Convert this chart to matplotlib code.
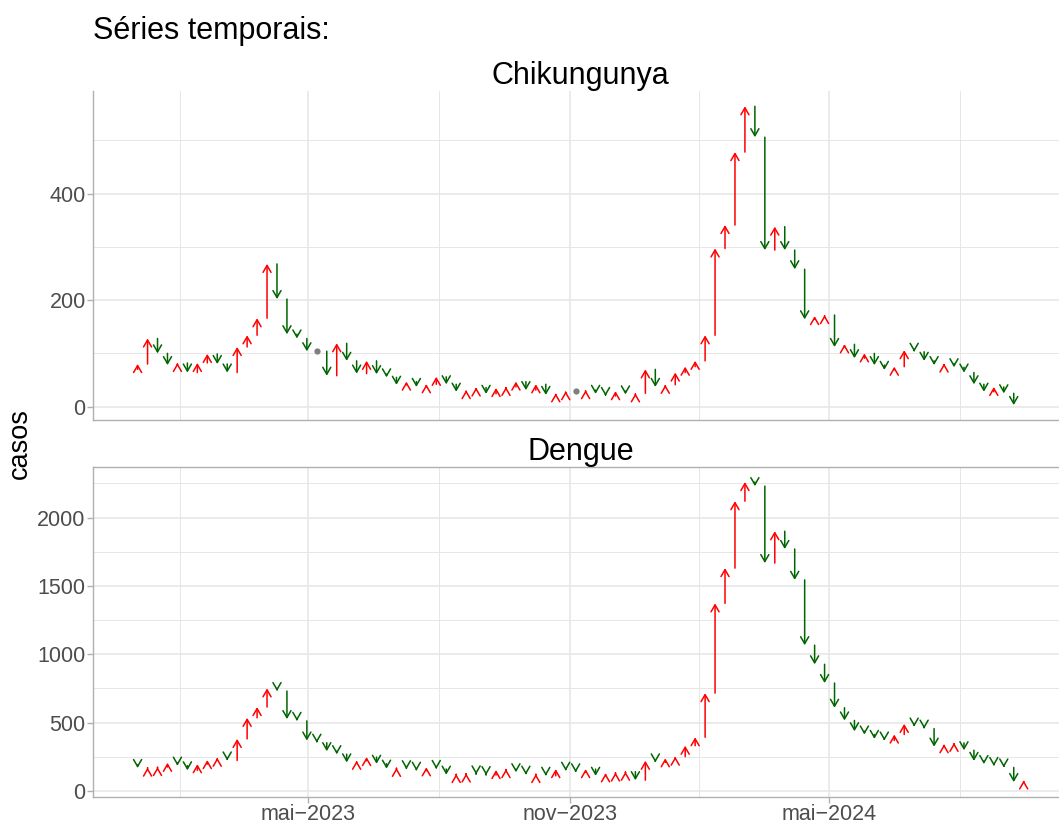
import matplotlib.dates as mdates
import matplotlib.pyplot as plt
import numpy as np
import pandas as pd

plt.rcParams["font.family"] = ["Liberation Sans", "DejaVu Sans"]

# weekly cases, the first value is the week before the plotted range
chik_cases = [
    70, 80, 128, 100, 78, 82, 64, 82, 99, 80, 64,
    112, 134, 166, 268, 202, 136, 128, 104, 104, 58,
    119, 86, 62, 86, 61, 55, 41, 47, 37, 42,
    56, 42, 28, 31, 36, 24, 35, 37, 47, 31,
    42, 22, 25, 29, 29, 31, 24, 20, 29, 23,
    25, 70, 37, 41, 64, 75, 86, 134, 297, 341,
    478, 564, 506, 294, 338, 294, 258, 164, 170, 172,
    112, 117, 91, 100, 78, 69, 75, 106, 103, 86,
    78, 81, 74, 64, 42, 28, 37, 25, 3,
]
dengue_cases = [
    190, 167, 170, 174, 205, 184, 150, 195, 225, 242, 222,
    380, 534, 613, 750, 730, 525, 512, 368, 352, 290,
    268, 208, 220, 247, 198, 162, 168, 158, 147, 172,
    160, 118, 123, 127, 120, 115, 152, 159, 136, 118,
    123, 110, 159, 147, 135, 159, 110, 128, 134, 140,
    78, 220, 208, 238, 250, 330, 392, 715, 1372, 1630,
    2120, 2260, 2230, 1667, 1900, 1770, 1544, 1066, 926, 789,
    608, 515, 436, 412, 380, 368, 412, 490, 470, 455,
    323, 341, 351, 297, 219, 196, 182, 171, 64, 76,
]
first_week = "2022-12-25"

major_months = ["2023-05-01", "2023-11-01", "2024-05-01"]
major_labels = ["mai\u22122023", "nov\u22122023", "mai\u22122024"]
outer_months = ["2022-11-01", "2024-11-01"]

chik_major = [0, 200, 400]
chik_minor = [100, 300, 500]
dengue_major = [0, 500, 1000, 1500, 2000]
dengue_minor = [250, 750, 1250, 1750, 2250]

UP = "#ff0000"
DOWN = "#006400"
SAME = "#7f7f7f"
AXIS = "#b0b0b0"
GRID = "#e6e6e6"
TEXT = "#4d4d4d"


def week_dates(n):
    return mdates.date2num(pd.date_range(first_week, periods=n, freq="7D"))


def draw_arrows(ax, x, values):
    for xi, a, b in zip(x[1:], values[:-1], values[1:]):
        if a == b:
            ax.plot(xi, b, "o", color=SAME, ms=4.5, mec="none", zorder=3)
            continue
        ax.annotate(
            "", xy=(xi, b), xytext=(xi, a),
            arrowprops=dict(
                arrowstyle="->,head_length=0.5,head_width=0.29",
                color=UP if b > a else DOWN, lw=1.1,
                shrinkA=0, shrinkB=0, mutation_scale=10,
            ),
            zorder=3,
        )


def style_panel(ax, title, values, y_major, y_minor, xlim, show_x):
    lo, hi = min(values), max(values)
    pad = 0.05 * (hi - lo)
    ax.set_ylim(lo - pad, hi + pad)
    ax.set_xlim(*xlim)

    majors = mdates.date2num(pd.to_datetime(major_months))
    every = mdates.date2num(pd.to_datetime(sorted(major_months + outer_months)))
    ax.set_xticks(majors)
    ax.set_xticks((every[:-1] + every[1:]) / 2, minor=True)
    ax.set_yticks(y_major)
    ax.set_yticks(y_minor, minor=True)

    ax.grid(which="major", color=GRID, lw=1.1, zorder=0)
    ax.grid(which="minor", color=GRID, lw=0.7, zorder=0)
    ax.set_axisbelow(True)

    for side in ["top", "right"]:
        ax.spines[side].set_visible(False)
    for side in ["left", "bottom"]:
        ax.spines[side].set_color(AXIS)
        ax.spines[side].set_linewidth(1.0)

    ax.tick_params(axis="y", which="major", length=4, width=1.0, color=AXIS,
                   labelsize=15.5, labelcolor=TEXT, pad=1.5)
    ax.tick_params(which="minor", length=0)
    if show_x:
        ax.set_xticklabels(major_labels)
        ax.tick_params(axis="x", which="major", length=4, width=1.0, color=AXIS,
                       labelsize=15.5, labelcolor=TEXT, pad=1)
    else:
        ax.tick_params(axis="x", which="major", length=0, labelbottom=False)

    ax.set_title(title, fontsize=22, pad=5)


def main():
    x_chik = week_dates(len(chik_cases))
    x_dengue = week_dates(len(dengue_cases))
    x_lo = min(x_chik[1], x_dengue[1])
    x_hi = max(x_chik[-1], x_dengue[-1])
    xpad = 0.05 * (x_hi - x_lo)
    xlim = (x_lo - xpad, x_hi + xpad)

    fig = plt.figure(figsize=(10.59, 8.23), dpi=100)
    ax_top = fig.add_axes([0.0881, 0.4897, 0.9204, 0.3993])
    ax_bot = fig.add_axes([0.0881, 0.0315, 0.9204, 0.4010])

    draw_arrows(ax_top, x_chik, chik_cases)
    draw_arrows(ax_bot, x_dengue, dengue_cases)

    style_panel(ax_top, "Chikungunya", chik_cases, chik_major, chik_minor, xlim, False)
    style_panel(ax_bot, "Dengue", dengue_cases, dengue_major, dengue_minor, xlim, True)
    ax_bot.spines["top"].set_visible(True)
    ax_bot.spines["top"].set_color(AXIS)
    ax_bot.spines["top"].set_linewidth(1.0)

    fig.text(93 / 1059, 1 - 39 / 823, "Séries temporais:", fontsize=22,
             ha="left", va="baseline")
    fig.text(20 / 1059, 1 - 444 / 823, "casos", fontsize=19.5, rotation=90,
             ha="center", va="center")

    fig.savefig("out.png", dpi=100)
    plt.close(fig)


if __name__ == "__main__":
    main()
